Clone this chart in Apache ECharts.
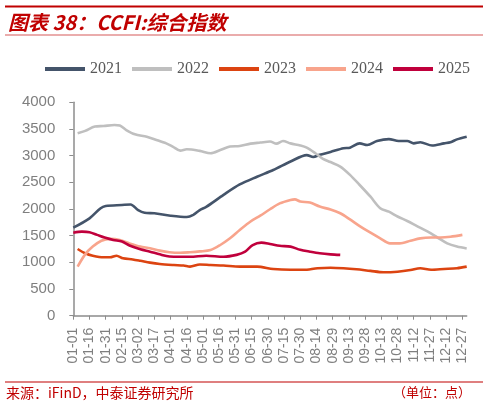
<!DOCTYPE html>
<html><head><meta charset="utf-8">
<script src="https://cdn.jsdelivr.net/npm/echarts@6/dist/echarts.min.js"></script>
<style>html,body{margin:0;padding:0;background:#fff}#c{width:488px;height:406px}</style>
</head><body><div id="c"></div>
<script>
// Categories: MM-DD for a non-leap year
const monthDays = [31,28,31,30,31,30,31,31,30,31,30,31];
const categories = [];
monthDays.forEach((n, m) => { for (let d = 1; d <= n; d++) categories.push(String(m+1).padStart(2,'0') + '-' + String(d).padStart(2,'0')); });

const yTicks = [0, 500, 1000, 1500, 2000, 2500, 3000, 3500, 4000];

// day index (0 = 01-01) and value
const d2021 = [0, 15, 25, 30, 45, 53, 60, 66, 75, 90, 105, 111, 117, 123, 139, 154, 170, 185, 201, 216, 222, 228, 238, 250, 256, 265, 272, 281, 292, 301, 309, 315, 321, 332, 343, 349, 355, 364];
const v2021 = [1650, 1825, 2010, 2055, 2075, 2085, 1980, 1930, 1920, 1875, 1850, 1890, 1980, 2040, 2265, 2460, 2605, 2730, 2890, 3010, 2975, 3015, 3070, 3140, 3150, 3230, 3200, 3275, 3310, 3275, 3275, 3230, 3250, 3190, 3230, 3250, 3305, 3355];

const d2022 = [4, 11, 20, 28, 38, 43, 49, 57, 68, 77, 86, 92, 99, 105, 117, 127, 136, 145, 154, 164, 173, 182, 188, 194, 201, 210, 216, 224, 231, 238, 247, 256, 265, 275, 284, 292, 300, 309, 318, 328, 337, 346, 355, 364];
const v2022 = [3420, 3465, 3545, 3555, 3575, 3565, 3480, 3400, 3355, 3295, 3230, 3170, 3095, 3120, 3090, 3045, 3105, 3170, 3180, 3225, 3245, 3265, 3225, 3275, 3230, 3190, 3150, 3045, 2940, 2880, 2795, 2640, 2450, 2230, 2015, 1950, 1860, 1775, 1680, 1575, 1465, 1355, 1295, 1260];

const d2023 = [4, 11, 18, 28, 34, 40, 46, 55, 62, 71, 80, 93, 102, 108, 117, 127, 139, 154, 170, 185, 201, 213, 226, 238, 250, 262, 275, 287, 300, 312, 321, 331, 343, 355, 364];
const v2023 = [1250, 1170, 1125, 1095, 1095, 1125, 1075, 1055, 1030, 995, 970, 950, 940, 920, 960, 950, 940, 920, 920, 875, 860, 860, 890, 900, 890, 870, 840, 815, 825, 855, 890, 860, 875, 890, 920];

const d2024 = [4, 11, 18, 26, 34, 43, 52, 62, 71, 80, 89, 99, 108, 117, 127, 136, 145, 154, 164, 173, 182, 191, 201, 205, 210, 219, 228, 238, 247, 256, 265, 275, 284, 293, 302, 312, 321, 331, 340, 349, 360];
const v2024 = [920, 1150, 1295, 1405, 1440, 1420, 1355, 1295, 1265, 1220, 1190, 1180, 1190, 1205, 1230, 1325, 1450, 1605, 1765, 1875, 1995, 2105, 2170, 2180, 2140, 2120, 2045, 1990, 1920, 1805, 1680, 1555, 1450, 1355, 1355, 1405, 1450, 1465, 1465, 1480, 1515];

const d2025 = [0, 8, 15, 22, 29, 37, 45, 52, 62, 71, 80, 89, 99, 108, 123, 139, 151, 159, 166, 174, 182, 191, 201, 210, 219, 228, 238, 247];
const v2025 = [1555, 1575, 1565, 1515, 1465, 1420, 1390, 1315, 1245, 1200, 1150, 1110, 1105, 1105, 1125, 1105, 1140, 1200, 1325, 1370, 1345, 1310, 1295, 1235, 1200, 1170, 1150, 1140];

const seriesNames = ['2021', '2022', '2023', '2024', '2025'];
const seriesDays = [d2021, d2022, d2023, d2024, d2025];
const seriesVals = [v2021, v2022, v2023, v2024, v2025];
const colors = ['#44546a', '#bfbfbf', '#dc4411', '#f8a48c', '#c0003c'];

const chart = echarts.init(document.getElementById('c'), null, {renderer: 'canvas'});
chart.setOption({
  animation: false,
  color: colors,
  grid: {left: 73.3, right: 21.3, top: 102.3, bottom: 90.3},
  legend: {
    data: seriesNames, left: 40, top: 56, itemWidth: 40, itemHeight: 4, itemGap: 10, icon: 'rect',
    textStyle: {fontFamily: 'Liberation Serif', fontSize: 16, color: '#595959'}
  },
  xAxis: {
    type: 'category', data: categories, boundaryGap: false,
    axisLine: {lineStyle: {color: '#8c8c8c', width: 1.5}},
    axisTick: {interval: 14, length: 4, lineStyle: {color: '#8c8c8c'}},
    axisLabel: {interval: 14, rotate: 90, margin: 12, fontSize: 14, color: '#7f7f7f', fontFamily: 'Liberation Sans'},
    splitLine: {show: false}
  },
  yAxis: {
    type: 'value', min: yTicks[0], max: yTicks[yTicks.length-1], interval: yTicks[1] - yTicks[0],
    axisLine: {show: true, lineStyle: {color: '#8c8c8c', width: 1.5}},
    axisTick: {show: true, length: 4, lineStyle: {color: '#8c8c8c'}},
    axisLabel: {margin: 18, fontSize: 15, color: '#7f7f7f', fontFamily: 'Liberation Sans', formatter: v => String(v)},
    splitLine: {show: false}
  },
  series: seriesNames.map((n, i) => ({
    name: n, type: 'line', showSymbol: false, symbol: 'none', smooth: 0.3,
    lineStyle: {width: 2.6, color: colors[i]},
    data: seriesDays[i].map((d, j) => [categories[d], seriesVals[i][j]])
  })),
  graphic: [
    {type: 'rect', shape: {x: 5, y: 5.5, width: 478, height: 2}, style: {fill: '#c00000'}},
    {type: 'text', left: 8, top: 12, style: {text: '图表 38：CCFI:综合指数', fill: '#c00000', font: 'italic bold 20px "Noto Sans CJK SC"'}},
    {type: 'rect', shape: {x: 5, y: 34.5, width: 478, height: 1}, style: {fill: '#d65a5a'}},
    {type: 'rect', shape: {x: 5, y: 381.5, width: 478, height: 1}, style: {fill: '#c00000'}},
    {type: 'text', left: 6, top: 386, style: {text: '来源：iFinD，中泰证券研究所', fill: '#c00000', font: '14px "Noto Sans CJK SC"'}},
    {type: 'text', right: 17, top: 386, style: {text: '（单位：点）', fill: '#c00000', font: '13px "Noto Sans CJK SC"'}}
  ]
});
</script>
</body></html>
